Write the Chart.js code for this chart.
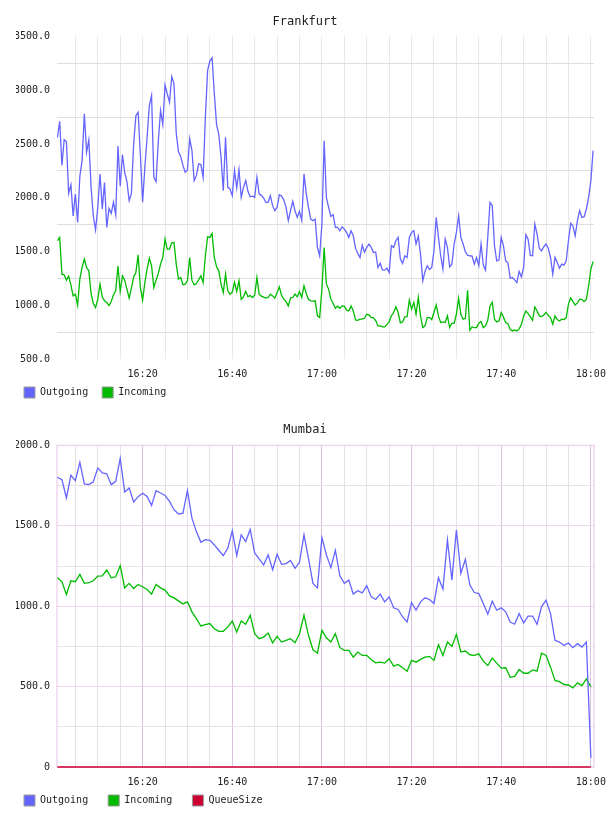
<!DOCTYPE html>
<html>
<head>
<meta charset="utf-8">
<script src="https://cdn.jsdelivr.net/npm/chart.js@4.4.0/dist/chart.umd.min.js"></script>
<style>
    body { margin: 0; background: #fff; }
    .box { position: absolute; left: 0; width: 608px; height: 408px; }
</style>
</head>
<body>
<div class="box" style="top:0"><canvas id="frankfurtCanvas"></canvas></div>
<div class="box" style="top:408px"><canvas id="mumbaiCanvas"></canvas></div>
<script>
// minutes after 16:00
const xMin = 0.9;
const xMax = 120.7;

// Frankfurt, one sample every 30 s from 16:01
const frankfurtStart = 1;
const frankfurtStep = 0.5;
const frankfurtOutgoing = [
    2560, 2711, 2300, 2540, 2520, 2040, 2121, 1830, 2034, 1770, 2200, 2345, 2780, 2422, 2537, 2100, 1830, 1700, 1910, 2220,
    1895, 2140, 1724, 1900, 1854, 1960, 1840, 2480, 2106, 2400, 2234, 2150, 1972, 2037, 2500, 2763, 2795, 2400, 1957, 2282,
    2562, 2857, 2950, 2189, 2150, 2525, 2810, 2680, 3050, 2966, 2888, 3127, 3059, 2600, 2430, 2382, 2300, 2236, 2258, 2550,
    2440, 2159, 2205, 2314, 2308, 2190, 2749, 3184, 3270, 3300, 2966, 2680, 2587, 2376, 2065, 2562, 2096, 2081, 2019, 2252,
    2090, 2261, 2003, 2096, 2159, 2059, 2009, 2015, 2003, 2190, 2034, 2022, 1997, 1957, 1957, 2019, 1926, 1879, 1910, 2028,
    2015, 1978, 1910, 1786, 1879, 1966, 1879, 1817, 1873, 1790, 2221, 2040, 1910, 1801, 1786, 1801, 1537, 1460, 1755, 2530,
    2000, 1910, 1826, 1842, 1724, 1724, 1693, 1730, 1708, 1677, 1631, 1693, 1646, 1531, 1482, 1444, 1559, 1494, 1538, 1569,
    1538, 1491, 1494, 1351, 1391, 1329, 1326, 1345, 1305, 1553, 1538, 1600, 1631, 1429, 1389, 1460, 1444, 1631, 1677, 1693,
    1569, 1643, 1475, 1227, 1314, 1367, 1332, 1351, 1507, 1817, 1631, 1460, 1336, 1615, 1538, 1357, 1382, 1569, 1677, 1832,
    1631, 1569, 1497, 1466, 1460, 1457, 1382, 1444, 1367, 1569, 1376, 1326, 1631, 1957, 1926, 1553, 1413, 1420, 1631, 1553,
    1413, 1395, 1252, 1258, 1236, 1211, 1314, 1264, 1351, 1656, 1615, 1463, 1460, 1755, 1662, 1531, 1506, 1544, 1569, 1528,
    1444, 1289, 1444, 1397, 1345, 1382, 1373, 1413, 1600, 1761, 1736, 1646, 1786, 1879, 1817, 1823, 1895, 2003, 2159, 2438
];
const frankfurtIncoming = [
    1600, 1631, 1289, 1283, 1233, 1270, 1190, 1087, 1103, 1000, 1246, 1351, 1429, 1351, 1320, 1109, 1016, 978, 1056, 1196,
    1078, 1041, 1025, 997, 1034, 1097, 1134, 1364, 1128, 1274, 1233, 1149, 1066, 1159, 1264, 1305, 1469, 1165, 1047, 1211,
    1336, 1438, 1367, 1165, 1233, 1295, 1382, 1444, 1615, 1522, 1522, 1581, 1584, 1382, 1243, 1258, 1190, 1196, 1227, 1444,
    1233, 1190, 1202, 1236, 1274, 1211, 1460, 1637, 1631, 1668, 1444, 1357, 1320, 1196, 1118, 1289, 1134, 1103, 1121, 1215,
    1128, 1227, 1056, 1078, 1128, 1081, 1090, 1072, 1093, 1258, 1103, 1084, 1075, 1066, 1072, 1103, 1087, 1066, 1118, 1171,
    1090, 1056, 1034, 994, 1069, 1072, 1103, 1078, 1128, 1072, 1180, 1109, 1056, 1041, 1038, 1041, 901, 885, 1149, 1537,
    1196, 1149, 1056, 1019, 972, 991, 972, 994, 991, 954, 947, 994, 947, 864, 860, 870, 870, 879, 916, 910,
    885, 885, 857, 808, 808, 798, 798, 820, 848, 901, 932, 985, 932, 836, 845, 891, 894, 1047, 963, 1025,
    916, 1072, 901, 792, 808, 885, 885, 867, 932, 1003, 898, 839, 845, 839, 901, 792, 832, 832, 916, 1066,
    916, 870, 879, 1140, 767, 798, 792, 792, 832, 848, 792, 808, 860, 991, 1028, 870, 845, 854, 932, 891,
    839, 829, 773, 761, 770, 761, 780, 820, 898, 947, 922, 891, 860, 985, 947, 901, 894, 910, 935, 904,
    885, 823, 901, 867, 854, 870, 867, 885, 1010, 1069, 1034, 1003, 1022, 1056, 1053, 1034, 1056, 1180, 1336, 1407
];

// Mumbai, one sample a minute from 16:01
const mumbaiStart = 1;
const mumbaiStep = 1;
const mumbaiOutgoing = [
    1802, 1787, 1673, 1814, 1781, 1894, 1760, 1756, 1773, 1860, 1829, 1823, 1756, 1777, 1919, 1710, 1735, 1648, 1681, 1702,
    1683, 1627, 1719, 1704, 1689, 1652, 1600, 1573, 1579, 1719, 1548, 1464, 1398, 1414, 1410, 1381, 1348, 1314, 1360, 1469,
    1314, 1444, 1402, 1477, 1331, 1294, 1256, 1319, 1227, 1323, 1260, 1265, 1285, 1235, 1273, 1444, 1298, 1142, 1114, 1427,
    1319, 1240, 1348, 1189, 1142, 1162, 1075, 1096, 1083, 1127, 1058, 1042, 1075, 1027, 1058, 990, 980, 933, 902, 1023,
    975, 1027, 1052, 1042, 1017, 1177, 1106, 1412, 1162, 1475, 1204, 1292, 1131, 1085, 1079, 1017, 950, 1031, 975, 990,
    965, 902, 888, 954, 896, 938, 938, 888, 996, 1037, 954, 788, 777, 756, 771, 742, 767, 746, 777, 58
];
const mumbaiIncoming = [
    1177, 1152, 1073, 1158, 1152, 1198, 1142, 1146, 1158, 1187, 1189, 1225, 1177, 1183, 1252, 1114, 1142, 1110, 1135, 1121,
    1104, 1075, 1135, 1114, 1100, 1064, 1052, 1033, 1014, 1027, 965, 923, 877, 885, 892, 860, 844, 844, 871, 908,
    840, 908, 888, 944, 829, 798, 808, 833, 771, 813, 777, 788, 798, 773, 829, 944, 819, 729, 708, 850,
    804, 777, 829, 742, 725, 725, 683, 715, 694, 694, 667, 648, 652, 646, 673, 627, 638, 617, 596, 663,
    652, 669, 683, 688, 663, 760, 694, 777, 750, 825, 715, 721, 698, 694, 704, 658, 631, 677, 646, 615,
    617, 558, 563, 606, 583, 583, 604, 596, 708, 694, 621, 538, 531, 513, 510, 492, 523, 506, 548, 500
];
const mumbaiQueue = [
    0, 0, 0, 0, 0, 0, 0, 0, 0, 0, 0, 0, 0, 0, 0, 0, 0, 0, 0, 0,
    0, 0, 0, 0, 0, 0, 0, 0, 0, 0, 0, 0, 0, 0, 0, 0, 0, 0, 0, 0,
    0, 0, 0, 0, 0, 0, 0, 0, 0, 0, 0, 0, 0, 0, 0, 0, 0, 0, 0, 0,
    0, 0, 0, 0, 0, 0, 0, 0, 0, 0, 0, 0, 0, 0, 0, 0, 0, 0, 0, 0,
    0, 0, 0, 0, 0, 0, 0, 0, 0, 0, 0, 0, 0, 0, 0, 0, 0, 0, 0, 0,
    0, 0, 0, 0, 0, 0, 0, 0, 0, 0, 0, 0, 0, 0, 0, 0, 0, 0, 0, 0
];

const timeTicks = [20, 40, 60, 80, 100, 120]; // labelled every 20 min

const MONO = "'DejaVu Sans Mono', monospace";

function points(values, start, step) {
    return values.map((v, i) => ({ x: start + i * step, y: v }));
}

function timeLabel(v) {
    const h = 16 + Math.floor(v / 60);
    const m = v % 60;
    return h + ":" + (m < 10 ? "0" + m : m);
}

function line(label, values, start, step, color) {
    return {
        label: label,
        data: points(values, start, step),
        borderColor: color,
        backgroundColor: color,
        borderWidth: 1.3,
        pointRadius: 0,
        tension: 0
    };
}

// pink frame round the Mumbai plot
const framePlugin = {
    id: "frame",
    beforeDatasetsDraw(chart, args, opts) {
        if (!opts.color) return;
        const a = chart.chartArea;
        const ctx = chart.ctx;
        ctx.save();
        ctx.strokeStyle = opts.color;
        ctx.lineWidth = 1.5;
        ctx.strokeRect(a.left, a.top, a.right - a.left, a.bottom - a.top);
        ctx.restore();
    }
};

function makeChart(canvas, title, datasets, yMax, pink) {
    return new Chart(canvas, {
        type: "line",
        data: { datasets: datasets },
        plugins: [framePlugin],
        options: {
            responsive: true,
            maintainAspectRatio: false,
            animation: false,
            layout: { padding: { left: 16, right: 14, top: 0, bottom: 0 } },
            plugins: {
                frame: { color: pink ? "#efd6ef" : null },
                title: {
                    display: true,
                    text: title,
                    color: "#222",
                    font: { family: MONO, size: 12, weight: "normal" },
                    padding: { top: 15, bottom: pink ? 8 : 7 }
                },
                legend: {
                    position: "bottom",
                    align: "start",
                    labels: {
                        font: { family: MONO, size: 10 },
                        color: "#222",
                        boxWidth: 11,
                        boxHeight: 11,
                        padding: 8,
                        generateLabels(chart) {
                            const items = Chart.defaults.plugins.legend.labels.generateLabels(chart);
                            const w = Math.max(...items.map(it => it.text.length)) + 1;
                            return items.map(it => Object.assign(it, {
                                text: it.text.padEnd(w, " "),
                                strokeStyle: "#999",
                                lineWidth: 1
                            }));
                        }
                    }
                },
                tooltip: { enabled: false }
            },
            scales: {
                x: {
                    type: "linear",
                    min: xMin,
                    max: xMax,
                    border: { display: false },
                    grid: {
                        drawTicks: false,
                        color: ctx => pink
                            ? (ctx.tick && ctx.tick.value % 20 === 0 ? "#dcc3dc" : "#e6e0e6")
                            : "#e8e8e8"
                    },
                    ticks: {
                        stepSize: 5,
                        includeBounds: false,
                        autoSkip: false,
                        maxRotation: 0,
                        minRotation: 0,
                        padding: 9,
                        color: "#222",
                        font: { family: MONO, size: 10 },
                        callback: v => timeTicks.includes(Math.round(v)) && Math.abs(v - Math.round(v)) < 0.01
                            ? timeLabel(Math.round(v)) : ""
                    },
                    afterFit(scale) {
                        scale.paddingLeft = 0;
                        scale.paddingRight = 0;
                        scale.height = 20;
                    }
                },
                y: {
                    min: pink ? 0 : 500,
                    max: yMax,
                    border: { display: false },
                    grid: {
                        drawTicks: false,
                        color: ctx => {
                            const v = ctx.tick ? ctx.tick.value : 0;
                            if (v % 500 === 0) return pink ? "#efd6ef" : "rgba(0,0,0,0)";
                            return pink ? "#e6e2e6" : "#dedede";
                        }
                    },
                    ticks: {
                        stepSize: 250,
                        padding: 7,
                        color: "#222",
                        font: { family: MONO, size: 10 },
                        callback: v => v % 500 !== 0 ? "" : (v === 0 ? "0" : v.toFixed(1))
                    },
                    afterFit(scale) {
                        scale.width = 41;
                    }
                }
            }
        }
    });
}

document.addEventListener("DOMContentLoaded", function () {
    const frankfurtCanvas = document.getElementById("frankfurtCanvas");
    const mumbaiCanvas = document.getElementById("mumbaiCanvas");

    makeChart(frankfurtCanvas, "Frankfurt", [
        line("Outgoing", frankfurtOutgoing, frankfurtStart, frankfurtStep, "#6464ff"),
        line("Incoming", frankfurtIncoming, frankfurtStart, frankfurtStep, "#00bb00")
    ], 3500, false);

    const queue = line("QueueSize", mumbaiQueue, mumbaiStart, mumbaiStep, "#cc0033");
    queue.borderWidth = 1.5;
    queue.clip = false;

    makeChart(mumbaiCanvas, "Mumbai", [
        line("Outgoing", mumbaiOutgoing, mumbaiStart, mumbaiStep, "#6464ff"),
        line("Incoming", mumbaiIncoming, mumbaiStart, mumbaiStep, "#00bb00"),
        queue
    ], 2000, true);
});
</script>
</body>
</html>
